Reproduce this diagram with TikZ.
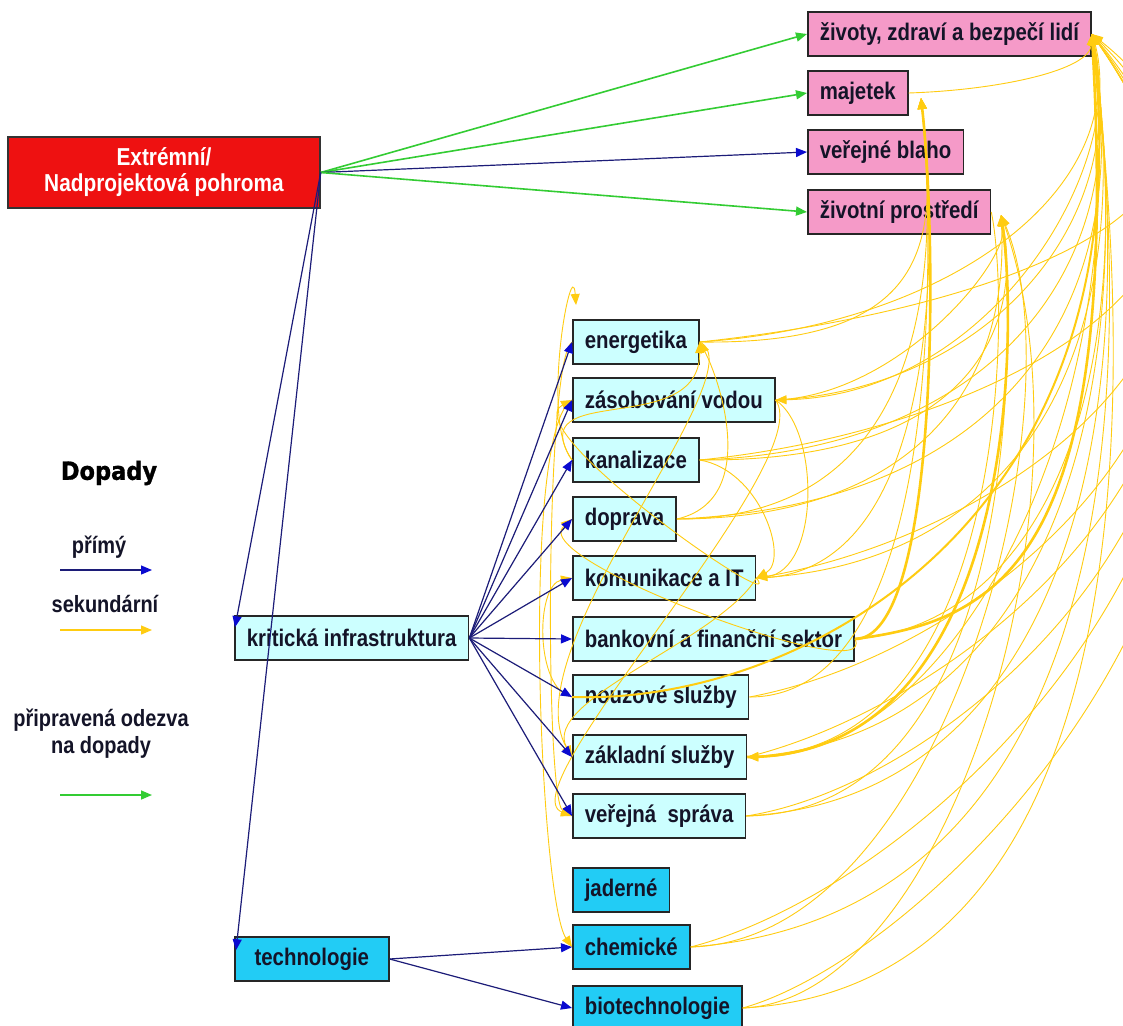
\documentclass[tikz,border=0pt]{standalone}
\usepackage{fontspec}
\setmainfont{Liberation Sans}[FakeStretch=0.85]
\newfontfamily\heavyfont{DejaVu Sans}[FakeStretch=0.9, FakeBold=1.2]
\usetikzlibrary{arrows.meta,calc}

\definecolor{hazardred}{HTML}{EE1111}
\definecolor{impactpink}{HTML}{F59AC8}
\definecolor{infracyan}{HTML}{CCFFFF}
\definecolor{techcyan}{HTML}{22CCF5}
\definecolor{directline}{HTML}{1C1C78}
\definecolor{directtip}{HTML}{0A0AD0}
\definecolor{secondary}{HTML}{FFCC11}
\definecolor{response}{HTML}{33CC33}
\definecolor{boxtext}{HTML}{141428}

\tikzset{
  box/.style={draw=black!85, line width=1.6pt, rectangle, minimum height=44pt,
    inner xsep=12pt, inner ysep=0pt, anchor=west, text=boxtext,
    font=\bfseries\fontsize{24}{26}\selectfont},
  impact/.style={box, fill=impactpink},
  infra/.style={box, fill=infracyan},
  techbox/.style={box, fill=techcyan},
  legend/.style={text=boxtext, font=\bfseries\fontsize{23.5}{27}\selectfont, align=center},
  direct/.style={draw=directline, line width=1.2pt,
    -{Triangle[length=11pt,width=9pt,color=directtip]}},
  response/.style={draw=response, line width=1.6pt,
    -{Triangle[length=11pt,width=9pt]}},
  sec/.style={draw=secondary, line width=0.9pt,
    -{Triangle[length=11pt,width=9pt]}},
  secthick/.style={sec, line width=2.6pt},
}

\begin{document}
\begin{tikzpicture}[x=1pt, y=-1pt]
\fill[white] (0,0) rectangle (1123,1025);
\useasboundingbox (0,0) rectangle (1123,1025);

% source of all impacts
\node[draw=black!80, line width=1.4pt, fill=hazardred, minimum width=312pt,
      minimum height=71pt, inner sep=0pt, text=white, align=center,
      font=\bfseries\fontsize{24.5}{26}\selectfont]
  (hazard) at (164,172.5) {Extrémní/\\Nadprojektová pohroma};

% impacted values
\node[impact] (life) at (807,34)  {životy, zdraví a bezpečí lidí};
\node[impact] (prop) at (807,93)  {majetek};
\node[impact] (welf) at (807,152) {veřejné blaho};
\node[impact] (env)  at (807,212) {životní prostředí};

% critical infrastructure sectors
\node[infra] (ki)     at (234,638) {kritická infrastruktura};
\node[infra] (ener)   at (572,342) {energetika};
\node[infra] (water)  at (572,400) {zásobování vodou};
\node[infra] (sewer)  at (572,460) {kanalizace};
\node[infra] (trans)  at (572,519) {doprava};
\node[infra] (comm)   at (572,578) {komunikace a IT};
\node[infra] (bank)   at (572,639) {bankovní a finanční sektor};
\node[infra] (emerg)  at (572,697) {nouzové služby};
\node[infra] (basic)  at (572,757) {základní služby};
\node[infra] (admin)  at (572,816) {veřejná\ \ správa};

% technologies
\node[techbox, minimum width=154pt] (tech) at (234,959) {technologie};
\node[techbox] (nuc)  at (572,890)  {jaderné};
\node[techbox] (chem) at (572,947)  {chemické};
\node[techbox] (bio)  at (572,1008) {biotechnologie};

% legend
\node[font=\heavyfont\bfseries\fontsize{25}{28}\selectfont, text=black] (dopady) at (109,473) {Dopady};
\node[legend] (lgdirect) at (99,547) {přímý};
\node[legend] (lgsec) at (105,604) {sekundární};
\node[legend] (lgresp) at (101,734) {připravená odezva\\na dopady};
\coordinate (ld1) at (60,570);  \coordinate (ld2) at (152,570);
\coordinate (ls1) at (60,630);  \coordinate (ls2) at (152,630);
\coordinate (lr1) at (60,795);  \coordinate (lr2) at (152,795);
\draw[direct] (ld1) -- (ld2);
\draw[sec, line width=1.2pt] (ls1) -- (ls2);
\draw[response] (lr1) -- (lr2);

% arrival points of the secondary bundles
\coordinate (propin) at (921,98);
\coordinate (envin)  at (1001,215);
\coordinate (topend) at (576,305);

% ---- secondary impacts ----
% towards lives, health and safety
\draw[sec] (ener.east)  .. controls (950,325) and (1128,190) .. (life.east);
\draw[sec] (water.east) .. controls (980,390) and (1132,230) .. (life.east);
\draw[sec] (sewer.east) .. controls (990,450) and (1135,270) .. (life.east);
\draw[sec] (trans.east) .. controls (1000,505) and (1138,310) .. (life.east);
\draw[sec] (comm.east)  .. controls (1020,565) and (1140,350) .. (life.east);
\draw[sec] (bank.east)  .. controls (1040,625) and (1143,390) .. (life.east);
\draw[sec] (basic.east) .. controls (1030,740) and (1146,430) .. (life.east);
\draw[sec] (admin.east) .. controls (1040,800) and (1150,470) .. (life.east);
\draw[sec] (chem.east)  .. controls (1060,920) and (1152,520) .. (life.east);
\draw[sec] (bio.east)   .. controls (1080,990) and (1156,560) .. (life.east);
\draw[sec] (ener.east)  .. controls (1000,310) and (1300,200) .. (life.east);
\draw[sec] (sewer.east) .. controls (1000,430) and (1320,260) .. (life.east);
\draw[sec] (comm.east)  .. controls (1000,540) and (1330,320) .. (life.east);
\draw[sec] (emerg.east) .. controls (1000,650) and (1340,360) .. (life.east);
\draw[sec] (basic.east) .. controls (980,700) and (1350,400) .. (life.east);
\draw[sec] (admin.east) .. controls (980,780) and (1360,420) .. (life.east);
\draw[sec] (chem.east)  .. controls (950,880) and (1380,450) .. (life.east);
\draw[sec] (bio.east)   .. controls (950,950) and (1400,480) .. (life.east);
\draw[secthick] (bank.east) .. controls (1000,620) and (1122,560) .. (life.east);
\draw[sec, line width=2pt] (emerg.west) .. controls (800,705) and (1150,520) .. (life.east);
\draw[sec] (prop.east)  .. controls (1000,90) and (1090,70) .. (life.east);
\draw[sec] (life.east)  .. controls (1135,150) and (1000,395) .. (water.east);
\draw[sec] (life.east)  .. controls (1140,420) and (950,757) .. (basic.east);

% towards property
\draw[secthick] (bank.east) .. controls (938,639) and (938,250) .. (propin);
\draw[sec] (comm.east)  .. controls (936,578) and (940,260) .. (propin);
\draw[sec] (ener.east)  .. controls (934,345) and (938,240) .. (propin);
\draw[sec] (emerg.east) .. controls (940,697) and (936,260) .. (propin);
\draw[sec] (trans.east) .. controls (938,519) and (937,250) .. (propin);

% towards the environment
\draw[secthick] (basic.east) .. controls (1018,757) and (1018,330) .. (envin);
\draw[sec] (admin.east) .. controls (1022,812) and (1016,330) .. (envin);
\draw[sec] (sewer.east) .. controls (1000,462) and (1018,300) .. (envin);
\draw[sec] (env.east)   .. controls (1010,300) and (1012,745) .. (basic.east);
\draw[sec] (chem.east)  .. controls (950,940) and (1080,400) .. (envin);
\draw[sec] (bio.east)   .. controls (950,1000) and (1100,500) .. (envin);
\draw[sec] (trans.east) .. controls (900,519) and (1010,400) .. (envin);
\draw[sec] (water.east) .. controls (900,395) and (1010,260) .. (envin);

% between the sectors themselves
\draw[sec] (ener.east)  .. controls (760,370) and (510,650) .. (basic.west);
\draw[sec] (water.east) .. controls (820,460) and (505,790) .. (admin.west);
\draw[sec] (comm.east)  .. controls (790,620) and (515,430) .. (water.west);
\draw[sec] (bank.east)  .. controls (880,690) and (525,560) .. (trans.west);
\draw[sec] (emerg.west) .. controls (535,690) and (535,585) .. (comm.west);
\draw[sec] (water.west) .. controls (520,430) and (540,900) .. (chem.west);
\draw[sec] (sewer.west) .. controls (540,420) and (572,250) .. (topend);
\draw[sec] (water.east) .. controls (820,430) and (820,570) .. (comm.east);
\draw[sec] (sewer.west) .. controls (520,380) and (700,440) .. (ener.east);
\draw[sec] (trans.east) .. controls (760,500) and (720,380) .. (ener.east);
\draw[sec] (comm.east)  .. controls (720,640) and (540,700) .. (basic.west);
\draw[sec] (ener.west)  .. controls (545,360) and (545,800) .. (admin.west);
\draw[sec] (sewer.east) .. controls (760,470) and (790,560) .. (comm.east);

% ---- direct impacts and prepared responses ----
\draw[response] (hazard.east) -- (life.west);
\draw[response] (hazard.east) -- (prop.west);
\draw[direct]   (hazard.east) -- (welf.west);
\draw[response] (hazard.east) -- (env.west);
\draw[direct] (hazard.east) -- ($(ki.north west)+(1,12)$);
\draw[direct] (hazard.east) -- ($(tech.north west)+(2,14)$);
\foreach \t in {ener,water,sewer,trans,comm,bank,emerg,basic,admin}
  \draw[direct] (ki.east) -- (\t.west);
\draw[direct] (tech.east) -- (chem.west);
\draw[direct] (tech.east) -- (bio.west);
\end{tikzpicture}
\end{document}
